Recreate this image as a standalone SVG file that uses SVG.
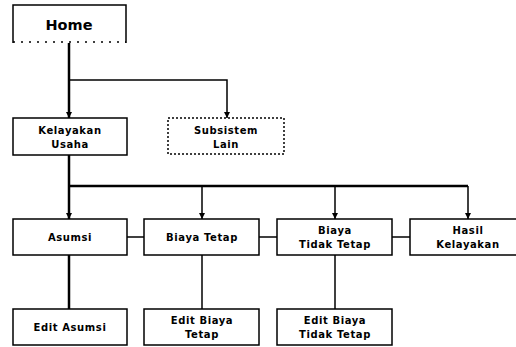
<svg xmlns="http://www.w3.org/2000/svg" width="516" height="347" viewBox="0 0 516 347">
<defs>
<style>
.box{fill:#fff;stroke:#000;stroke-width:1.5}
.dot{fill:#fff;stroke:#000;stroke-width:1.5;stroke-dasharray:2 2}
.t{font-family:"DejaVu Sans",sans-serif;font-weight:bold;font-size:10px;letter-spacing:0.6px;text-anchor:middle;fill:#000}
.h{font-family:"DejaVu Sans",sans-serif;font-weight:bold;font-size:14.5px;text-anchor:middle;fill:#000}
.c{fill:none;stroke:#000;stroke-width:1.5}
.ct{fill:none;stroke:#000;stroke-width:2.5}
</style>
<marker id="ar" viewBox="0 0 6 6" refX="6" refY="3" markerWidth="6" markerHeight="6" markerUnits="userSpaceOnUse" orient="auto">
<path d="M0,0 L6,3 L0,6 Z" fill="#000"/>
</marker>
</defs>
<rect width="516" height="347" fill="#fff"/>
<g id="connectors">
<path class="ct" d="M69,42 V118" marker-end="url(#ar)"/>
<path class="c" d="M69,80 H227 V118" marker-end="url(#ar)"/>
<path class="ct" d="M69,155 V219" marker-end="url(#ar)"/>
<path class="ct" d="M69,186 H468"/>
<path class="c" d="M202,186 V219" marker-end="url(#ar)"/>
<path class="c" d="M335,186 V219" marker-end="url(#ar)"/>
<path class="c" d="M468,186 V219" marker-end="url(#ar)"/>
<path class="c" d="M127,237 H144"/>
<path class="c" d="M259,237 H277"/>
<path class="c" d="M392,237 H410"/>
<path class="ct" d="M69,255 V309"/>
<path class="c" d="M202,255 V309"/>
<path class="c" d="M335,255 V309"/>
</g>
<g id="home">
<path d="M13,43 V5 H126 V43" fill="#fff" stroke="#000" stroke-width="1.5"/>
<path d="M13,42 H126" stroke="#000" stroke-width="1.5" stroke-dasharray="2 6"/>
<text class="h" x="69" y="30">Home</text>
</g>
<g id="kelayakan">
<rect class="box" x="13" y="118" width="114" height="37"/>
<text class="t" x="70" y="134">Kelayakan</text>
<text class="t" x="70" y="148">Usaha</text>
</g>
<g id="subsistem">
<rect class="dot" x="168" y="118" width="116" height="36"/>
<text class="t" x="226" y="134">Subsistem</text>
<text class="t" x="226" y="148">Lain</text>
</g>
<g id="asumsi">
<rect class="box" x="13" y="219" width="114" height="36"/>
<text class="t" x="70" y="241">Asumsi</text>
</g>
<g id="biaya-tetap">
<rect class="box" x="144" y="219" width="115" height="36"/>
<text class="t" x="202" y="241">Biaya Tetap</text>
</g>
<g id="biaya-tidak-tetap">
<rect class="box" x="277" y="219" width="115" height="36"/>
<text class="t" x="335" y="234">Biaya</text>
<text class="t" x="335" y="248">Tidak Tetap</text>
</g>
<g id="hasil-kelayakan">
<rect class="box" x="410" y="219" width="112" height="36"/>
<text class="t" x="468" y="234">Hasil</text>
<text class="t" x="468" y="248">Kelayakan</text>
</g>
<g id="edit-asumsi">
<rect class="box" x="13" y="309" width="114" height="36"/>
<text class="t" x="70" y="331">Edit Asumsi</text>
</g>
<g id="edit-biaya-tetap">
<rect class="box" x="144" y="309" width="115" height="36"/>
<text class="t" x="202" y="324">Edit Biaya</text>
<text class="t" x="202" y="338">Tetap</text>
</g>
<g id="edit-biaya-tidak-tetap">
<rect class="box" x="277" y="309" width="115" height="36"/>
<text class="t" x="335" y="324">Edit Biaya</text>
<text class="t" x="335" y="338">Tidak Tetap</text>
</g>
</svg>
